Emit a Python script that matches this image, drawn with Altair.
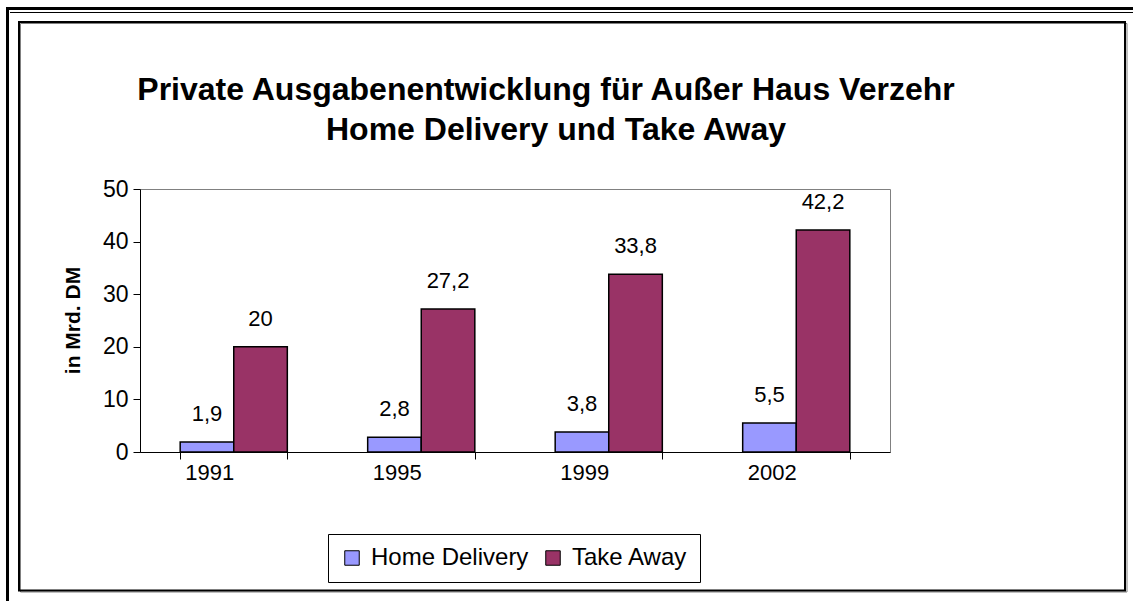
import altair as alt
import pandas as pd

years = ["1991", "1995", "1999", "2002"]
series = ["Home Delivery", "Take Away"]
home_delivery = [1.9, 2.8, 3.8, 5.5]
take_away = [20, 27.2, 33.8, 42.2]
colors = ["#9999FF", "#993366"]
title_lines = ["Private Ausgabenentwicklung für Außer Haus Verzehr", "Home Delivery und Take Away"]

FONT = "Liberation Sans, Arial, sans-serif"

rows = []
for y, hd, ta in zip(years, home_delivery, take_away):
    for s, v in ((series[0], hd), (series[1], ta)):
        lab = ("%g" % v).replace(".", ",")
        rows.append({"year": y, "series": s, "value": v, "label": lab})
df = pd.DataFrame(rows)

W, H = 750, 263

x_enc = alt.X("year:N", sort=years,
              scale=alt.Scale(paddingInner=0.4286, paddingOuter=0.2143),
              axis=alt.Axis(title=None, tickBand="extent", tickSize=7, tickColor="black",
                            domainColor="black", labelFontSize=22, labelPadding=3,
                            labelAlign="right", labelColor="black", labelFont=FONT,
                            labelAngle=0))
xo_enc = alt.XOffset("series:N", sort=series, scale=alt.Scale(paddingInner=0, paddingOuter=0))
y_enc = alt.Y("value:Q", scale=alt.Scale(domain=[0, 50], nice=False),
              axis=alt.Axis(values=[0, 10, 20, 30, 40, 50], grid=False, tickSize=7,
                            tickColor="black", domainColor="black", labelFontSize=23,
                            labelPadding=5, labelColor="black", labelFont=FONT,
                            title="in Mrd. DM", titleFontSize=21, titleFont=FONT,
                            titleFontWeight="bold", titleColor="black",
                            titleX=-67, titleY=131, titleAngle=270,
                            titleAlign="center", titleBaseline="middle"))

base = alt.Chart(df)

bars = base.mark_bar(stroke="black", strokeWidth=1.5).encode(
    x=x_enc,
    xOffset=xo_enc,
    y=y_enc,
    color=alt.Color("series:N", sort=series,
                    scale=alt.Scale(domain=series, range=colors),
                    legend=alt.Legend(title=None, orient="none", legendX=188, legendY=345,
                                      direction="horizontal", strokeColor="black",
                                      fillColor="white", padding=12,
                                      labelFontSize=24, labelFont=FONT, labelColor="black",
                                      symbolType="square", symbolSize=210,
                                      symbolStrokeColor="black", symbolStrokeWidth=1,
                                      symbolOpacity=1, labelOffset=7, columnPadding=12)),
)

labels = base.mark_text(baseline="bottom", dy=-16, fontSize=22, font=FONT, color="black").encode(
    x=alt.X("year:N", sort=years),
    xOffset=alt.XOffset("series:N", sort=series),
    y=alt.Y("value:Q"),
    text="label:N",
)

deco = alt.Chart(pd.DataFrame({"d": [0]}))
outer_top = deco.mark_rule(color="black", strokeWidth=3).encode(
    x=alt.value(-133), x2=alt.value(993), y=alt.value(-180.5))
outer_thin = deco.mark_rule(color="black", strokeWidth=1).encode(
    x=alt.value(-130), x2=alt.value(993), y=alt.value(-176.5))
outer_left = deco.mark_rule(color="black", strokeWidth=3).encode(
    x=alt.value(-132.5), y=alt.value(-182), y2=alt.value(412))
inner_shadow = deco.mark_rect(fill=None, stroke="#808080", strokeWidth=1).encode(
    x=alt.value(-119.5), x2=alt.value(987), y=alt.value(-165.5), y2=alt.value(403))
inner_box = deco.mark_rect(fill=None, stroke="black", strokeWidth=2).encode(
    x=alt.value(-121), x2=alt.value(985), y=alt.value(-167), y2=alt.value(401.5))

title1 = deco.mark_text(fontSize=32, font=FONT, fontWeight="bold", color="black",
                        align="center", baseline="alphabetic").encode(
    x=alt.value(406), y=alt.value(-89), text=alt.value(title_lines[0]))
title2 = deco.mark_text(fontSize=32, font=FONT, fontWeight="bold", color="black",
                        align="center", baseline="alphabetic").encode(
    x=alt.value(416), y=alt.value(-49), text=alt.value(title_lines[1]))

chart = alt.layer(
    inner_shadow, inner_box, outer_top, outer_thin, outer_left, title1, title2, bars, labels
).properties(
    width=W, height=H,
    autosize=alt.AutoSizeParams(type="none"),
    padding={"left": 140, "top": 189, "right": 243, "bottom": 149},
    background="white",
).configure_view(stroke="#808080", strokeWidth=1)

chart.save("out.html", embed_options={"renderer": "svg", "actions": False})
